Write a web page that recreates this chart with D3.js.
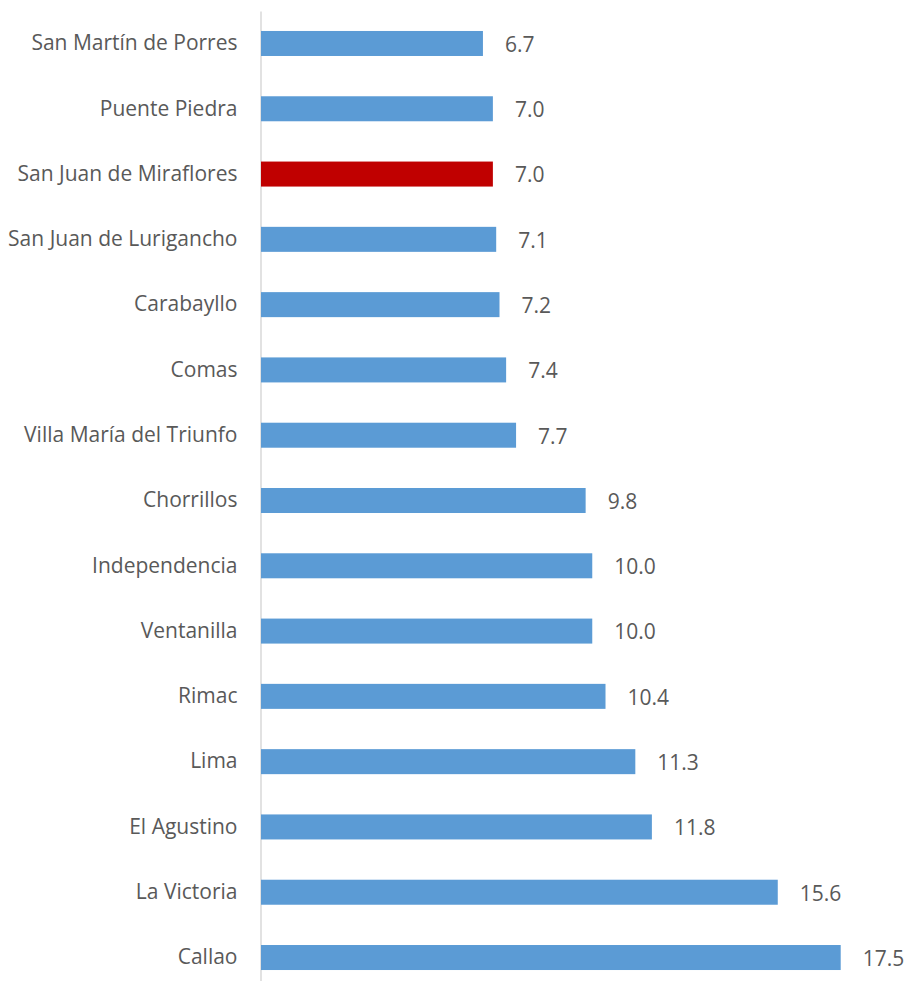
<!DOCTYPE html>
<html>
<head>
<meta charset="utf-8">
<script src="https://cdn.jsdelivr.net/npm/d3@7"></script>
<style>
  body { margin: 0; background: #fff; }
  text { font-family: "Open Sans", sans-serif; fill: #595959; }
</style>
</head>
<body>
<div id="chart"></div>
<script>
// Districts, top to bottom
const districts = [
    "San Martín de Porres", "Puente Piedra", "San Juan de Miraflores",
    "San Juan de Lurigancho", "Carabayllo", "Comas", "Villa María del Triunfo",
    "Chorrillos", "Independencia", "Ventanilla", "Rimac", "Lima",
    "El Agustino", "La Victoria", "Callao"
];
const values = [6.7, 7.0, 7.0, 7.1, 7.2, 7.4, 7.7, 9.8, 10.0, 10.0, 10.4, 11.3, 11.8, 15.6, 17.5];
const highlight = "San Juan de Miraflores";

const width = 906, height = 981;
const margin = { top: 11, left: 261 };

const svg = d3.select("#chart")
    .append("svg")
    .attr("width", width)
    .attr("height", height);

const xScale = d3.scaleLinear().domain([0, 17.5]).range([margin.left, 840.7]);
const yScale = d3.scaleBand()
    .domain(districts)
    .range([margin.top, 990])
    .paddingInner(0.617)
    .paddingOuter(0.306);

// Category axis
const yAxis = d3.axisLeft(yScale).tickSize(0).tickSizeOuter(0).tickPadding(23);
const gy = svg.append("g")
    .attr("transform", `translate(${margin.left - 0.5},0)`)
    .call(yAxis);
gy.select(".domain").attr("stroke", "#d9d9d9").attr("stroke-width", 1.5);
gy.selectAll(".tick text")
    .style("font-family", "'Open Sans', sans-serif")
    .style("font-size", "21px")
    .attr("fill", "#595959");

const data = districts.map((d, i) => ({ name: d, value: values[i] }));

// Bars
svg.selectAll("rect.bar")
    .data(data)
    .join("rect")
    .attr("class", "bar")
    .attr("x", xScale(0))
    .attr("y", d => yScale(d.name))
    .attr("width", d => xScale(d.value) - xScale(0))
    .attr("height", yScale.bandwidth())
    .attr("fill", d => d.name === highlight ? "#c00000" : "#5b9bd5");

// Value labels
svg.selectAll("text.val")
    .data(data)
    .join("text")
    .attr("class", "val")
    .attr("x", d => xScale(d.value) + 22)
    .attr("y", d => yScale(d.name) + yScale.bandwidth() / 2 + 1)
    .attr("dy", "0.35em")
    .style("font-size", "21px")
    .text(d => d.value.toFixed(1));
</script>
</body>
</html>
